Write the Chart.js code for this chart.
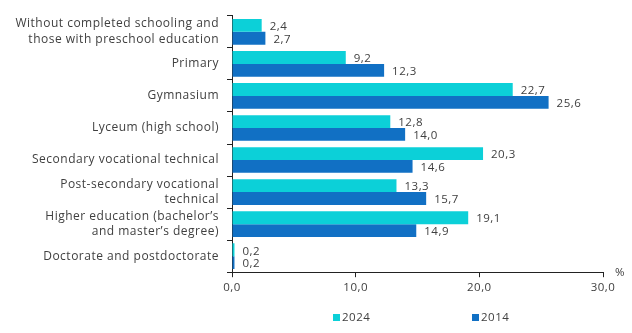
<!DOCTYPE html>
<html>
<head>
<meta charset="utf-8">
<script src="https://cdn.jsdelivr.net/npm/chart.js@4/dist/chart.umd.min.js"></script>
<style>
  html, body { margin: 0; padding: 0; background: #ffffff; }
  #wrap { width: 632px; height: 333px; position: relative; }
</style>
</head>
<body>
<div id="wrap"><canvas id="chart"></canvas></div>
<script>
// Population by level of education, % (2024 vs 2014)
const categories = [
  ["Without completed schooling and", "those with preschool education"],
  "Primary",
  "Gymnasium",
  "Lyceum (high school)",
  "Secondary vocational technical",
  ["Post-secondary vocational", "technical"],
  ["Higher education (bachelor\u2019s", "and master\u2019s degree)"],
  "Doctorate and postdoctorate"
];
const values2024 = [2.4, 9.2, 22.7, 12.8, 20.3, 13.3, 19.1, 0.2];
const values2014 = [2.7, 12.3, 25.6, 14.0, 14.6, 15.7, 14.9, 0.2];
const seriesLabels = ["2024", "2014"];
const xTicks = [0, 10, 20, 30];

const FONT = "'Open Sans', 'Lato', sans-serif";
const TEXT = "#404040";
const SPACING = "0.5px";
const fmt = v => v.toFixed(1).replace(".", ",");

// slightly wider tracking for all text on the canvas
const tracking = {
  id: "tracking",
  beforeInit(chart) { chart.ctx.letterSpacing = SPACING; },
  beforeLayout(chart) { chart.ctx.letterSpacing = SPACING; },
  beforeDraw(chart) { chart.ctx.letterSpacing = SPACING; }
};

// value labels at the end of each bar
const valueLabels = {
  id: "valueLabels",
  afterDatasetsDraw(chart) {
    const ctx = chart.ctx;
    ctx.save();
    ctx.font = "11.5px " + FONT;
    ctx.fillStyle = TEXT;
    ctx.textAlign = "left";
    ctx.textBaseline = "middle";
    chart.data.datasets.forEach((ds, i) => {
      chart.getDatasetMeta(i).data.forEach((bar, j) => {
        ctx.fillText(fmt(ds.data[j]), bar.x + 8, bar.y + 1.5);
      });
    });
    ctx.restore();
  }
};

// "%" unit at the end of the value axis, and the legend row below
const extras = {
  id: "extras",
  afterDraw(chart) {
    const ctx = chart.ctx;
    const x = chart.scales.x;
    ctx.save();
    ctx.font = "11.5px " + FONT;
    ctx.fillStyle = TEXT;
    ctx.textBaseline = "middle";
    ctx.textAlign = "left";
    ctx.fillText("%", x.right + 12, x.top + 1);

    const items = chart.data.datasets.map(ds => ({ label: ds.label, color: ds.backgroundColor }));
    const startX = [333, 472];
    const y = 318;
    items.forEach((it, i) => {
      ctx.fillStyle = it.color;
      ctx.fillRect(startX[i], y - 4, 7, 7);
      ctx.fillStyle = TEXT;
      ctx.fillText(it.label, startX[i] + 9, y);
    });
    ctx.restore();
  }
};

new Chart(document.getElementById("chart"), {
  type: "bar",
  data: {
    labels: categories,
    datasets: [
      { label: seriesLabels[0], data: values2024, backgroundColor: "#0cd0d8" },
      { label: seriesLabels[1], data: values2014, backgroundColor: "#1170c4" }
    ]
  },
  options: {
    indexAxis: "y",
    responsive: true,
    maintainAspectRatio: false,
    animation: false,
    layout: { padding: { top: 14, right: 29, bottom: 34, left: 0 } },
    datasets: { bar: { categoryPercentage: 0.8, barPercentage: 1.0 } },
    plugins: {
      legend: { display: false },
      tooltip: { enabled: false }
    },
    scales: {
      x: {
        min: 0,
        max: 30,
        afterBuildTicks(scale) { scale.ticks = xTicks.map(v => ({ value: v })); },
        grid: { display: true, drawOnChartArea: false, drawTicks: true, tickLength: 5, color: "#222" },
        border: { display: true, color: "#222", width: 1 },
        ticks: {
          font: { family: FONT, size: 11.5 },
          color: TEXT,
          padding: 4,
          callback: v => fmt(v)
        }
      },
      y: {
        offset: true,
        afterFit(scale) { scale.width = 232; },
        grid: { display: true, offset: true, drawOnChartArea: false, drawTicks: true, tickLength: 5, color: "#222" },
        border: { display: true, color: "#222", width: 1 },
        ticks: {
          font: { family: FONT, size: 12, lineHeight: 1.3 },
          color: TEXT,
          padding: 8,
          autoSkip: false
        }
      }
    }
  },
  plugins: [tracking, valueLabels, extras]
});
</script>
</body>
</html>
